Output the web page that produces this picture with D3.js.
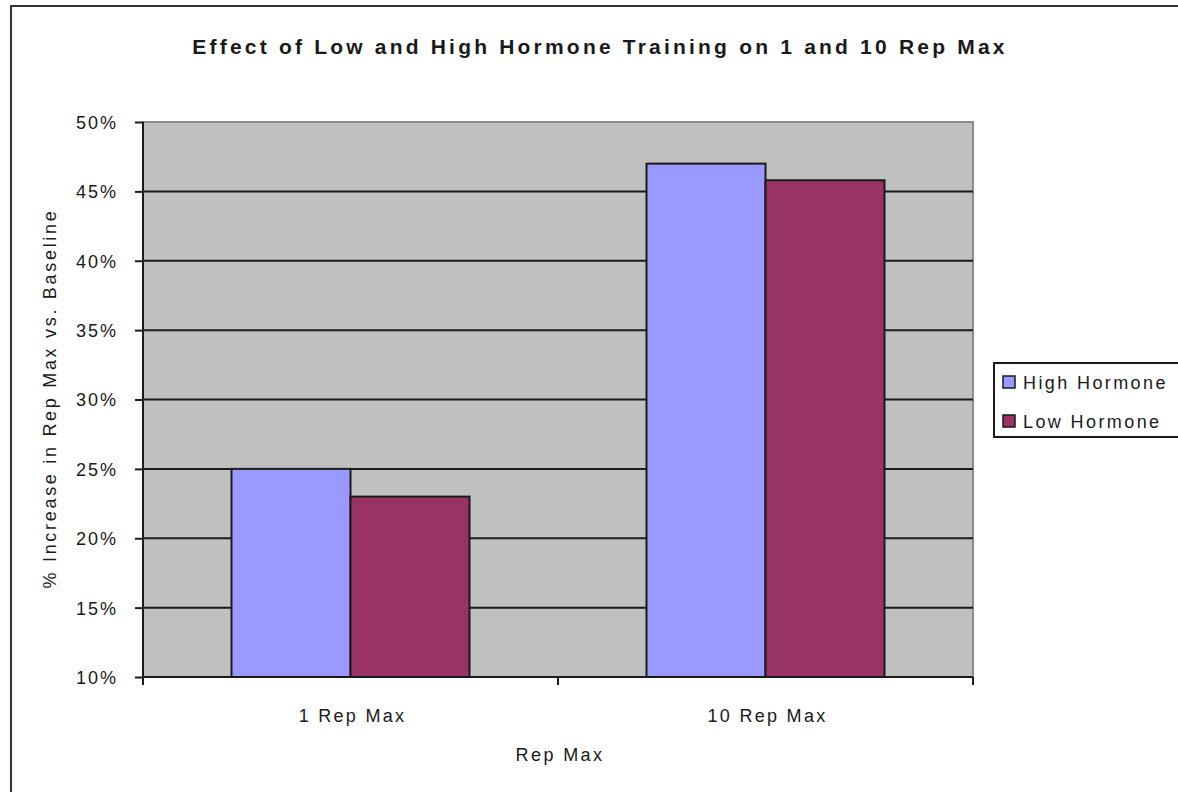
<!DOCTYPE html>
<html>
<head>
<meta charset="utf-8">
<script src="https://cdn.jsdelivr.net/npm/d3@7"></script>
<style>
  html, body { margin: 0; padding: 0; background: #fff; }
  svg { display: block; font-family: Arial, "Liberation Sans", sans-serif; }
</style>
</head>
<body>
<svg id="chart" width="1178" height="792"></svg>
<script>
// Rep-max categories and the two training groups
const categories = ["1 Rep Max", "10 Rep Max"];
const seriesNames = ["High Hormone", "Low Hormone"];
const highHormone = [25, 47];
const lowHormone = [23, 45.8];
const yTicks = [10, 15, 20, 25, 30, 35, 40, 45, 50];
const seriesColors = ["#9999FF", "#993366"];

const svg = d3.select("#chart");
const ink = "#1a1a1a";

// Outer chart frame (top and left edges sit inside the canvas)
svg.append("rect")
  .attr("x", 11).attr("y", 6)
  .attr("width", 1200).attr("height", 820)
  .attr("fill", "#fff").attr("stroke", "#333").attr("stroke-width", 2);

const plot = { left: 143, right: 973, top: 122, bottom: 677 };

const x0 = d3.scaleBand().domain(categories)
  .range([plot.left, plot.right]).paddingInner(0).paddingOuter(0);
const x1 = d3.scaleBand().domain(seriesNames)
  .range([0, 238]);
const y = d3.scaleLinear().domain([10, 50]).range([plot.bottom, plot.top]);

// Plot background
svg.append("rect")
  .attr("x", plot.left).attr("y", plot.top)
  .attr("width", plot.right - plot.left).attr("height", plot.bottom - plot.top)
  .attr("fill", "#C0C0C0").attr("stroke", "#8c8c8c").attr("stroke-width", 2);

// Horizontal gridlines
svg.append("g").selectAll("line")
  .data(yTicks.filter(t => t > 10 && t < 50))
  .join("line")
  .attr("x1", plot.left).attr("x2", plot.right)
  .attr("y1", d => y(d)).attr("y2", d => y(d))
  .attr("stroke", ink).attr("stroke-width", 2);

// Bars
const rows = categories.map((c, i) => ({
  category: c,
  values: [
    { name: seriesNames[0], value: highHormone[i], color: seriesColors[0] },
    { name: seriesNames[1], value: lowHormone[i], color: seriesColors[1] }
  ]
}));

const groups = svg.append("g").selectAll("g")
  .data(rows)
  .join("g")
  .attr("transform", d => `translate(${x0(d.category) + (x0.bandwidth() - 238) / 2},0)`);

groups.selectAll("rect")
  .data(d => d.values)
  .join("rect")
  .attr("x", d => x1(d.name))
  .attr("y", d => y(d.value))
  .attr("width", x1.bandwidth())
  .attr("height", d => y(10) - y(d.value))
  .attr("fill", d => d.color)
  .attr("stroke", ink).attr("stroke-width", 2);

// Y axis
const yAxis = svg.append("g")
  .attr("transform", `translate(${plot.left},0)`)
  .call(d3.axisLeft(y).tickValues(yTicks).tickSize(8).tickPadding(17)
    .tickFormat(d => d + "%"));
yAxis.select(".domain").attr("stroke", ink).attr("stroke-width", 2)
  .attr("d", `M0,${plot.top}V${plot.bottom + 8}`);
yAxis.selectAll(".tick line").attr("stroke", ink).attr("stroke-width", 2);
yAxis.selectAll(".tick text")
  .attr("font-size", 18).attr("fill", ink)
  .attr("font-family", "Arial, 'Liberation Sans', sans-serif")
  .attr("dy", "0.36em")
  .style("letter-spacing", "2px");

// X axis with tick marks at category boundaries
const xAxisG = svg.append("g");
xAxisG.append("line")
  .attr("x1", plot.left).attr("x2", plot.right)
  .attr("y1", plot.bottom).attr("y2", plot.bottom)
  .attr("stroke", ink).attr("stroke-width", 2);
const boundaries = [plot.left, ...categories.map(c => x0(c) + x0.bandwidth())];
xAxisG.selectAll("line.tk")
  .data(boundaries)
  .join("line").attr("class", "tk")
  .attr("x1", d => d).attr("x2", d => d)
  .attr("y1", plot.bottom).attr("y2", plot.bottom + 8)
  .attr("stroke", ink).attr("stroke-width", 2);
xAxisG.selectAll("text")
  .data(categories)
  .join("text")
  .attr("x", d => x0(d) + x0.bandwidth() / 2 + 2)
  .attr("y", 722)
  .attr("text-anchor", "middle")
  .attr("font-size", 18).attr("fill", ink)
  .style("letter-spacing", "2.3px")
  .text(d => d);

// Title
svg.append("text")
  .attr("x", 600).attr("y", 54)
  .attr("text-anchor", "middle")
  .attr("font-size", 21).attr("font-weight", "bold").attr("fill", ink)
  .style("letter-spacing", "3.2px")
  .text("Effect of Low and High Hormone Training on 1 and 10 Rep Max");

// Axis titles
svg.append("text")
  .attr("x", (plot.left + plot.right) / 2 + 2).attr("y", 761)
  .attr("text-anchor", "middle")
  .attr("font-size", 18).attr("fill", ink)
  .style("letter-spacing", "2.4px")
  .text("Rep Max");

svg.append("text")
  .attr("transform", `translate(56,${(plot.top + plot.bottom) / 2 - 1}) rotate(-90)`)
  .attr("text-anchor", "middle")
  .attr("font-size", 18).attr("fill", ink)
  .style("letter-spacing", "2.7px")
  .text("% Increase in Rep Max vs. Baseline");

// Legend
const legend = svg.append("g");
legend.append("rect")
  .attr("x", 994).attr("y", 363)
  .attr("width", 200).attr("height", 74)
  .attr("fill", "#fff").attr("stroke", ink).attr("stroke-width", 2);
const items = legend.selectAll("g.item")
  .data(seriesNames)
  .join("g").attr("class", "item")
  .attr("transform", (d, i) => `translate(1003,${382 + i * 39})`);
items.append("rect")
  .attr("x", 0).attr("y", -6)
  .attr("width", 12).attr("height", 12)
  .attr("fill", (d, i) => seriesColors[i])
  .attr("stroke", ink).attr("stroke-width", 1.5);
items.append("text")
  .attr("x", 20).attr("y", 6.5)
  .attr("font-size", 18).attr("fill", ink)
  .style("letter-spacing", "2.4px")
  .text(d => d);
</script>
</body>
</html>
